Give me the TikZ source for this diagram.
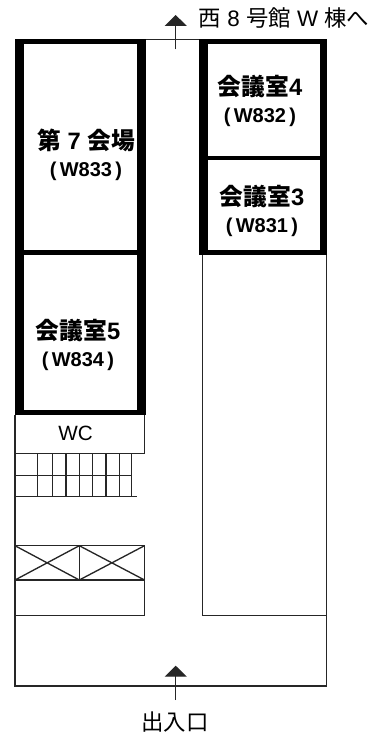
\documentclass[tikz,border=0pt]{standalone}
\usepackage{fontspec}
\setmainfont{Liberation Sans}
\newfontfamily\jpfont{Noto Sans CJK JP}
\usetikzlibrary{arrows.meta}
\newcommand{\roomcode}[1]{\fontsize{15}{20}\selectfont(\,#1\,)}
\begin{document}
\begin{tikzpicture}[x=.75pt,y=-.75pt]
	\tikzset{thinline/.style = {draw=black!85,line width=1pt}}
	\tikzset{wall/.style = {draw=black,line width=#1*.75pt}}
	\tikzset{roomlabel/.style = {align=center,inner sep=0pt,font=\fontsize{17.8}{20}\selectfont\bfseries}}
	\tikzset{plainlabel/.style = {inner sep=0pt,font=\fontsize{16.8}{20}\selectfont}}
	\tikzset{way/.style = {-{Triangle[length=8.25pt,width=16.5pt]},draw=black!85,line width=1pt}}
	\useasboundingbox (0,0) rectangle (376,735);
	% thin outlines
	\draw[thinline] (15,415) -- (15,686) -- (326.5,686) -- (326.5,254);
	\draw[thinline] (146,39.5) -- (199,39.5);
	\draw[thinline] (202.5,254) -- (202.5,615.5) -- (326.5,615.5);
	\draw[thinline] (144.5,415) -- (144.5,453.5) -- (15,453.5);
	% stairs
	\foreach \x in {37.7,52.7,66,79.3,92.7,106,119.3,131.7}
		\draw[thinline] (\x,453.5) -- (\x,496.5);
	\draw[thinline] (15,475.7) -- (131.7,475.7);
	\draw[thinline] (15,496.5) -- (136.7,496.5);
	% lift
	\draw[thinline] (15,545.7) rectangle (79.3,580);
	\draw[thinline] (79.3,545.7) rectangle (144.5,580);
	\draw[thinline] (15,545.7) -- (79.3,580) (15,580) -- (79.3,545.7);
	\draw[thinline] (79.3,545.7) -- (144.5,580) (79.3,580) -- (144.5,545.7);
	\draw[thinline] (144.5,580) -- (144.5,615.5) -- (15,615.5);
	% thick walls
	\draw[wall=9] (19.5,39.3) -- (19.5,415);
	\draw[wall=9] (141.5,39.3) -- (141.5,415);
	\draw[wall=4.5] (15,41.5) -- (146,41.5);
	\draw[wall=5] (15,252.5) -- (146,252.5);
	\draw[wall=5] (15,412.5) -- (146,412.5);
	\draw[wall=9] (203.5,39.3) -- (203.5,254.5);
	\draw[wall=7] (323.5,39.3) -- (323.5,254.5);
	\draw[wall=4.5] (199,41.5) -- (327,41.5);
	\draw[wall=4.5] (199,158) -- (327,158);
	\draw[wall=4.5] (199,252.3) -- (327,252.3);
	% labels
	\node[roomlabel] (hall) at (86,155) {{\jpfont 第} 7 {\jpfont 会場}\\\roomcode{W833}};
	\node[roomlabel] (roomfour) at (260,101) {{\jpfont 会議室}4\\\roomcode{W832}};
	\node[roomlabel] (roomthree) at (262,211) {{\jpfont 会議室}3\\\roomcode{W831}};
	\node[roomlabel] (roomfive) at (78,345) {{\jpfont 会議室}5\\\roomcode{W834}};
	\node[plainlabel,font=\fontsize{15.5}{20}\selectfont] (wc) at (75.5,433) {WC};
	\node[plainlabel] (west) at (284,18.5) {{\jpfont 西} 8 {\jpfont 号館} W {\jpfont 棟へ}};
	\node[plainlabel] (entrance) at (175,722.5) {\jpfont 出入口};
	% arrows
	\coordinate (westfoot) at (175.7,49.5);
	\coordinate (westtip) at (175.7,15);
	\coordinate (doorfoot) at (175.7,700);
	\coordinate (doortip) at (175.7,665.7);
	\draw[way] (westfoot) -- (westtip);
	\draw[way] (doorfoot) -- (doortip);
\end{tikzpicture}
\end{document}
